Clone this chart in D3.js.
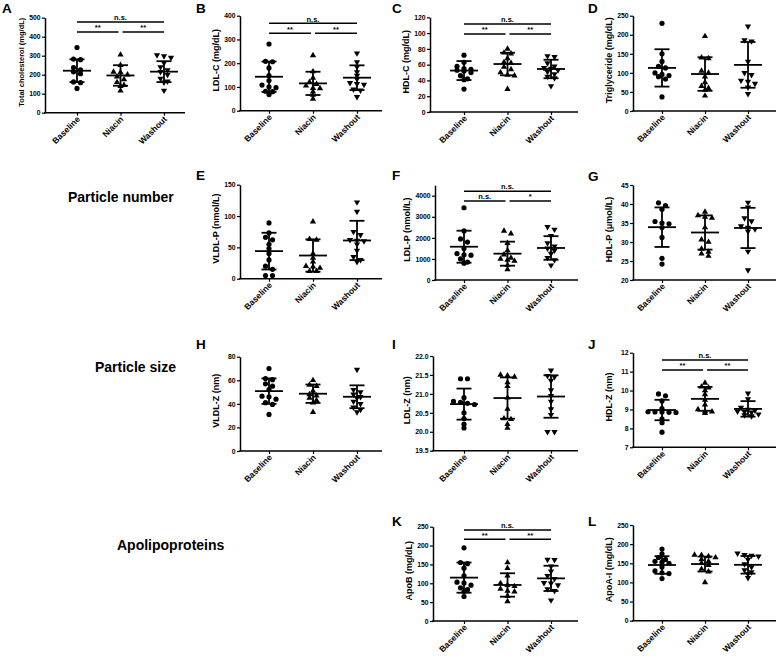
<!DOCTYPE html>
<html><head><meta charset="utf-8">
<script src="https://cdn.jsdelivr.net/npm/d3@7"></script>
<style>
body{margin:0;background:#fff}
svg text{font-family:"Liberation Sans",Arial,Helvetica,sans-serif;font-weight:bold;fill:#000}
</style>
</head><body>
<svg id="chart" width="778" height="659"></svg>
<script>
const groups = ["Baseline", "Niacin", "Washout"];

// A Total cholesterol
const tcBaseline = [343, 282, 279, 238, 225, 215, 205, 162, 158, 128];
const tcNiacin = [305, 250, 215, 212, 200, 190, 175, 160, 145, 140, 116];
const tcWashout = [303, 298, 290, 262, 240, 225, 215, 200, 180, 165, 160, 117];
const tcMean = [221, 196, 216], tcSD = [60, 54, 55];
const tcTicks = [0, 100, 200, 300, 400, 500];
// B LDL-C
const ldlcBaseline = [281, 208, 206, 180, 148, 127, 108, 100, 97, 82, 80, 68];
const ldlcNiacin = [233, 165, 138, 120, 112, 105, 95, 94, 80, 66, 50];
const ldlcWashout = [242, 205, 185, 163, 148, 133, 117, 113, 110, 90, 86, 58];
const ldlcMean = [143, 115, 139], ldlcSD = [64, 49, 52];
const ldlcTicks = [0, 100, 200, 300, 400];
// C HDL-C
const hdlcBaseline = [72, 63, 58, 55, 54, 53, 52, 50, 46, 42, 41, 29];
const hdlcNiacin = [80, 75, 74, 68, 63, 62, 57, 54, 50, 47, 46, 29];
const hdlcWashout = [71, 70, 62, 58, 56, 55, 53, 51, 48, 45, 43, 33];
const hdlcMean = [52.5, 60.8, 54.5], hdlcSD = [12, 14.3, 11.7];
const hdlcTicks = [0, 20, 40, 60, 80, 100, 120];
// D Triglyceride
const tgBaseline = [230, 150, 130, 117, 113, 100, 96, 93, 90, 84, 37];
const tgNiacin = [196, 140, 138, 105, 100, 90, 75, 65, 60, 55, 40];
const tgWashout = [222, 186, 183, 130, 100, 95, 80, 77, 72, 62, 45];
const tgMean = [113, 97, 121], tgSD = [49, 44, 60];
const tgTicks = [0, 50, 100, 150, 200, 250];
// E VLDL-P
const vldlpBaseline = [89, 73, 66, 62, 55, 48, 40, 30, 20, 15, 5, 5];
const vldlpNiacin = [91, 63, 62, 40, 33, 27, 20, 19, 17, 12, 12];
const vldlpWashout = [122, 107, 75, 70, 62, 61, 60, 55, 45, 35, 30, 27];
const vldlpMean = [44, 37, 61], vldlpSD = [29.3, 25.8, 31.4];
const vldlpTicks = [0, 50, 100, 150];
// F LDL-P
const ldlpBaseline = [3430, 2330, 1950, 1800, 1500, 1250, 1200, 1180, 1000, 850, 800];
const ldlpNiacin = [2330, 2200, 1750, 1400, 1200, 1050, 1000, 950, 900, 700, 500];
const ldlpWashout = [2520, 2400, 2100, 1750, 1600, 1500, 1400, 1250, 1050, 950, 700];
const ldlpMean = [1580, 1250, 1520], ldlpSD = [760, 570, 560];
const ldlpTicks = [0, 1000, 2000, 3000, 4000];
// G HDL-P
const hdlpBaseline = [40.3, 39.6, 38.6, 35.4, 35.0, 34.8, 33.8, 31.2, 25.7, 24.2];
const hdlpNiacin = [37.9, 37.0, 36.6, 36.3, 33.8, 30.6, 30.0, 28.2, 27.4, 26.9, 26.3];
const hdlpWashout = [40.4, 39.1, 36.3, 35.5, 34.2, 33.8, 33.4, 32.8, 27.5, 22.6];
const hdlpMean = [33.9, 32.5, 33.7], hdlpSD = [5.2, 4.5, 5.3];
const hdlpTicks = [20, 25, 30, 35, 40, 45];
// H VLDL-Z
const vldlzBaseline = [70, 61.5, 60.5, 57, 55, 52, 46.5, 46, 44, 41, 39.5, 31];
const vldlzNiacin = [60, 56, 55, 51, 48, 47, 45, 43, 41, 33];
const vldlzWashout = [69, 52, 50, 48, 46, 45, 42, 40, 37, 35, 33];
const vldlzMean = [50.8, 48.6, 46], vldlzSD = [10.8, 7.8, 9.7];
const vldlzTicks = [0, 20, 40, 60, 80];
// I LDL-Z
const ldlzBaseline = [21.4, 21.4, 20.9, 20.8, 20.78, 20.75, 20.72, 20.5, 20.35, 20.2, 20.1];
const ldlzNiacin = [21.5, 21.48, 21.45, 21.3, 21.2, 20.9, 20.6, 20.35, 20.33, 20.2, 20.1];
const ldlzWashout = [21.62, 21.48, 21.45, 21.35, 21.1, 20.95, 20.8, 20.6, 20.45, 20.0, 20.0];
const ldlzMean = [20.73, 20.89, 20.93], ldlzSD = [0.41, 0.545, 0.56];
const ldlzTicks = [19.5, 20.0, 20.5, 21.0, 21.5, 22.0];
// J HDL-Z
const hdlzBaseline = [9.82, 9.72, 9.45, 9.05, 8.88, 8.87, 8.86, 8.85, 8.84, 8.5, 8.3, 7.8];
const hdlzNiacin = [10.4, 10.2, 10.15, 10.0, 9.8, 9.5, 9.25, 9.0, 8.9, 8.88, 8.8];
const hdlzWashout = [9.85, 9.55, 9.1, 9.0, 8.95, 8.9, 8.88, 8.85, 8.75, 8.7, 8.65];
const hdlzMean = [8.97, 9.56, 9.03], hdlzSD = [0.54, 0.63, 0.41];
const hdlzTicks = [7, 8, 9, 10, 11, 12];
// K ApoB
const apobBaseline = [194, 155, 152, 140, 120, 103, 101, 95, 88, 83, 78, 65];
const apobNiacin = [155, 140, 120, 100, 95, 92, 85, 80, 78, 66, 52];
const apobWashout = [163, 162, 145, 132, 120, 112, 101, 100, 95, 85, 80, 55];
const apobMean = [115, 95.5, 113], apobSD = [40, 31, 33.5];
const apobTicks = [0, 50, 100, 150, 200, 250];
// L ApoA-I
const apoaBaseline = [187, 175, 165, 160, 155, 153, 150, 140, 130, 125, 123, 110];
const apoaNiacin = [172, 171, 168, 165, 160, 155, 150, 145, 135, 128, 100];
const apoaWashout = [176, 172, 170, 168, 160, 148, 140, 132, 127, 122, 112];
const apoaMean = [145.5, 148, 146], apoaSD = [23, 19.5, 23];
const apoaTicks = [0, 50, 100, 150, 200, 250];

const sigStd = ["n.s.", "**", "**"];
const sigF = ["n.s.", "n.s.", "*"];

const rowLabels = ["Particle number", "Particle size", "Apolipoproteins"];

// ---- layout (columns / rows) ----
const cols = [
  {ax: 45, end: 185, cx: [77, 164], lx: 2},
  {ax: 240, end: 382, cx: [269, 357], lx: 196},
  {ax: 432, end: 578, cx: [464, 551], lx: 392},
  {ax: 633, end: 776, cx: [662, 748], lx: 588}
];
const panels = [
  {L:"A", c:0, yt:17.7, yb:112.7, ly:13, dom:[0,500], ticks:tcTicks, lab:"Total cholesterol (mg/dL)", lfs:7.5, d:[tcBaseline,tcNiacin,tcWashout], m:tcMean, sd:tcSD, sig:sigStd, br:[4.3,14.3]},
  {L:"B", c:1, yt:15.7, yb:110.7, ly:13, dom:[0,400], ticks:ldlcTicks, lab:"LDL-C (mg/dL)", d:[ldlcBaseline,ldlcNiacin,ldlcWashout], m:ldlcMean, sd:ldlcSD, sig:sigStd, br:[7.6,17.6]},
  {L:"C", c:2, ax:430, yt:17.3, yb:112, ly:13, dom:[0,120], ticks:hdlcTicks, lab:"HDL-C (mg/dL)", d:[hdlcBaseline,hdlcNiacin,hdlcWashout], m:hdlcMean, sd:hdlcSD, sig:sigStd, br:[6.7,16.7]},
  {L:"D", c:3, yt:15.7, yb:111, ly:13, dom:[0,250], ticks:tgTicks, lab:"Triglyceride (mg/dL)", d:[tgBaseline,tgNiacin,tgWashout], m:tgMean, sd:tgSD},
  {L:"E", c:1, yt:184.7, yb:278.7, ly:180, dom:[0,150], ticks:vldlpTicks, lab:"VLDL-P (nmol/L)", d:[vldlpBaseline,vldlpNiacin,vldlpWashout], m:vldlpMean, sd:vldlpSD},
  {L:"F", c:2, ax:435, lo:25, yt:185.2, yb:280, ly:180, dom:[0,4500], ticks:ldlpTicks, lab:"LDL-P (nmol/L)", d:[ldlpBaseline,ldlpNiacin,ldlpWashout], m:ldlpMean, sd:ldlpSD, sig:sigF, br:[6,15.7]},
  {L:"G", c:3, yt:185, yb:280, ly:181, dom:[20,45], ticks:hdlpTicks, lab:"HDL-P (\u03bcmol/L)", d:[hdlpBaseline,hdlpNiacin,hdlpWashout], m:hdlpMean, sd:hdlpSD},
  {L:"H", c:1, yt:356.7, yb:451, ly:349, dom:[0,80], ticks:vldlzTicks, lab:"VLDL-Z (nm)", d:[vldlzBaseline,vldlzNiacin,vldlzWashout], m:vldlzMean, sd:vldlzSD},
  {L:"I", c:2, ax:433, lo:23, yt:356, yb:450.7, ly:349, dom:[19.5,22], ticks:ldlzTicks, fmt:".1f", lab:"LDL-Z (nm)", d:[ldlzBaseline,ldlzNiacin,ldlzWashout], m:ldlzMean, sd:ldlzSD},
  {L:"J", c:3, yt:352.7, yb:447.3, ly:349, dom:[7,12], ticks:hdlzTicks, lab:"HDL-Z (nm)", d:[hdlzBaseline,hdlzNiacin,hdlzWashout], m:hdlzMean, sd:hdlzSD, sig:sigStd, br:[7.3,17.3]},
  {L:"K", c:2, ax:433, yt:526.7, yb:621, ly:526, dom:[0,250], ticks:apobTicks, lab:"ApoB (mg/dL)", d:[apobBaseline,apobNiacin,apobWashout], m:apobMean, sd:apobSD, sig:sigStd, br:[3.3,12.6]},
  {L:"L", c:3, yt:525, yb:620.7, ly:526, dom:[0,250], ticks:apoaTicks, lab:"ApoA-I (mg/dL)", d:[apoaBaseline,apoaNiacin,apoaWashout], m:apoaMean, sd:apoaSD}
];

const svg = d3.select("#chart");
const symbols = [
  d3.symbol().type(d3.symbolCircle).size(21),
  d3.symbol().type(d3.symbolTriangle).size(17),
  d3.symbol().type(d3.symbolTriangle).size(17)
];

function swarm(vals, y, cx) {
  const pts = vals.map(v => ({v, py: y(v)})).sort((a, b) => a.py - b.py);
  const rows = [];
  pts.forEach(p => {
    const last = rows[rows.length - 1];
    if (last && p.py - last[0].py < 3.2) last.push(p); else rows.push([p]);
  });
  rows.forEach(r => r.forEach((p, i) => { p.px = cx + (i - (r.length - 1) / 2) * 7; }));
  return pts;
}

panels.forEach(p => {
  const col = cols[p.c];
  const ax = p.ax || col.ax;
  const g = svg.append("g");
  const x = d3.scalePoint().domain(groups).range(col.cx);
  const y = d3.scaleLinear().domain(p.dom).range([p.yb, p.yt]);

  // panel letter
  g.append("text").attr("x", col.lx).attr("y", p.ly).attr("font-size", 13.5).text(p.L);

  // y axis
  const ya = g.append("g").attr("transform", `translate(${ax},0)`)
    .call(d3.axisLeft(y).tickValues(p.ticks).tickSize(3).tickSizeOuter(0).tickPadding(1.5)
      .tickFormat(d3.format(p.fmt || "d")));
  ya.select(".domain").attr("stroke", "#000").attr("stroke-width", 1.5);
  ya.selectAll(".tick line").attr("stroke", "#000").attr("stroke-width", 1.2);
  ya.selectAll(".tick text").attr("font-size", 6.8).attr("font-family", null);

  // x axis
  g.append("line").attr("x1", ax - 0.75).attr("x2", col.end)
    .attr("y1", y(p.dom[0])).attr("y2", y(p.dom[0])).attr("stroke", "#000").attr("stroke-width", 1.5);
  const xa = g.append("g").attr("transform", `translate(0,${y(p.dom[0])})`)
    .call(d3.axisBottom(x).tickSize(3).tickSizeOuter(0));
  xa.select(".domain").remove();
  xa.selectAll(".tick line").attr("stroke", "#000").attr("stroke-width", 1.2);
  xa.selectAll(".tick text").attr("font-size", 8.5).attr("font-family", null)
    .attr("text-anchor", "end").attr("dy", null).attr("y", 0)
    .attr("transform", "translate(3,7) rotate(-45)");

  // y label
  g.append("text").attr("transform", `translate(${ax - (p.lo || 21.5)},${(p.yt + p.yb) / 2 - 3}) rotate(-90)`)
    .attr("text-anchor", "middle").attr("font-size", p.lfs || 9).text(p.lab);

  // points, mean, SD
  groups.forEach((gname, i) => {
    const cx = x(gname);
    const pts = swarm(p.d[i], y, cx);
    g.selectAll(null).data(pts).enter().append("path")
      .attr("d", symbols[i])
      .attr("transform", d => `translate(${d.px},${d.py})` + (i === 2 ? " rotate(180)" : ""))
      .attr("fill", "#000");
    const mean = p.m[i], sd = p.sd[i];
    const lg = g.append("g").attr("stroke", "#000").attr("stroke-width", 1.8);
    lg.append("line").attr("x1", cx - 14).attr("x2", cx + 14).attr("y1", y(mean)).attr("y2", y(mean));
    lg.append("line").attr("x1", cx).attr("x2", cx).attr("y1", y(mean + sd)).attr("y2", y(mean - sd));
    lg.append("line").attr("x1", cx - 7.5).attr("x2", cx + 7.5).attr("y1", y(mean + sd)).attr("y2", y(mean + sd));
    lg.append("line").attr("x1", cx - 7.5).attr("x2", cx + 7.5).attr("y1", y(mean - sd)).attr("y2", y(mean - sd));
  });

  // significance brackets
  if (p.sig) {
    const yTop = p.yt + p.br[0], yLow = p.yt + p.br[1];
    const xb = x(groups[0]), xn = x(groups[1]), xw = x(groups[2]);
    const segs = [
      {x1: xb, x2: xw, yy: yTop, t: p.sig[0]},
      {x1: xb, x2: xn - 2, yy: yLow, t: p.sig[1]},
      {x1: xn + 2, x2: xw, yy: yLow, t: p.sig[2]}
    ];
    segs.forEach(s => {
      g.append("line").attr("x1", s.x1).attr("x2", s.x2).attr("y1", s.yy).attr("y2", s.yy)
        .attr("stroke", "#000").attr("stroke-width", 1.5);
      g.append("text").attr("x", (s.x1 + s.x2) / 2).attr("y", s.yy - 1.8)
        .attr("text-anchor", "middle").attr("font-size", 7.5).text(s.t);
    });
  }
});

// row labels
const rowLabelPos = [[68, 202], [95, 372], [117, 550]];
rowLabels.forEach((t, i) => {
  svg.append("text").attr("x", rowLabelPos[i][0]).attr("y", rowLabelPos[i][1])
    .attr("font-size", 14).text(t);
});
</script>
</body></html>
